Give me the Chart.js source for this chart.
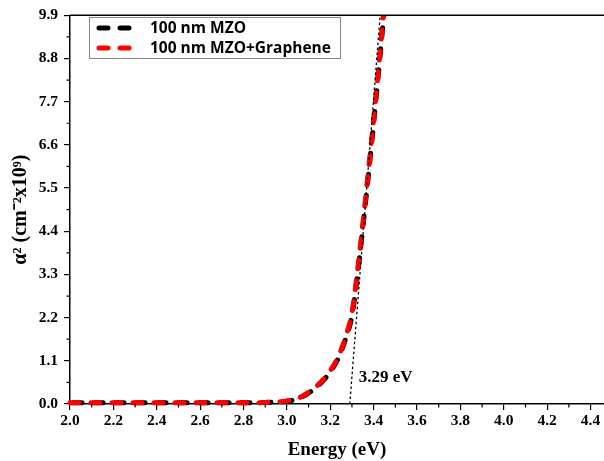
<!DOCTYPE html>
<html>
<head>
<meta charset="utf-8">
<script src="https://cdn.jsdelivr.net/npm/chart.js@4.4.1/dist/chart.umd.min.js"></script>
<style>
  html, body { margin: 0; padding: 0; background: #fff; }
  #wrap { width: 604px; height: 461px; }
</style>
</head>
<body>
<div id="wrap"><canvas id="chart" width="604" height="461"></canvas></div>
<script>
// data
const energy = [2.0, 2.1, 2.2, 2.3, 2.4, 2.5, 2.6, 2.7, 2.8, 2.9, 3.0, 3.05, 3.1, 3.15, 3.2, 3.24, 3.27, 3.3, 3.33, 3.36, 3.39, 3.42, 3.45, 3.47];
const mzo      = [0.03, 0.03, 0.03, 0.03, 0.03, 0.03, 0.03, 0.03, 0.03, 0.04, 0.07, 0.13, 0.28, 0.5, 0.82, 1.2, 1.65, 2.25, 3.5, 5.0, 6.6, 8.3, 10.1, 11.3];
const graphene = [0.03, 0.03, 0.03, 0.03, 0.03, 0.03, 0.03, 0.03, 0.03, 0.04, 0.08, 0.14, 0.3, 0.52, 0.85, 1.24, 1.7, 2.33, 3.6, 5.1, 6.7, 8.4, 10.2, 11.4];
const tangentE = [3.29, 3.43];
const tangentV = [0, 9.9];
const gapLabel = '3.29 eV';
const seriesNames = ['100 nm MZO', '100 nm MZO+Graphene'];
const xTicks = [2.0, 2.2, 2.4, 2.6, 2.8, 3.0, 3.2, 3.4, 3.6, 3.8, 4.0, 4.2, 4.4];
const yTicks = [0, 1.1, 2.2, 3.3, 4.4, 5.5, 6.6, 7.7, 8.8, 9.9];

const pts = (xs, ys) => xs.map((x, i) => ({ x: x, y: ys[i] }));
const serif = '"Liberation Serif", "Times New Roman", serif';

// minor ticks, top frame line, legend box and the band-gap label
const extras = {
  id: 'extras',
  afterDraw(chart) {
    const ctx = chart.ctx;
    const area = chart.chartArea;
    const xs = chart.scales.x, ys = chart.scales.y;
    ctx.save();
    ctx.strokeStyle = '#000';
    ctx.lineWidth = 1.5;
    ctx.beginPath();
    ctx.moveTo(area.left, area.top);
    ctx.lineTo(area.right, area.top);
    ctx.stroke();

    ctx.lineWidth = 1.2;
    ctx.beginPath();
    for (let i = 0; i < xTicks.length; i++) {
      const v = xTicks[i] + 0.1;
      if (v > xs.max) break;
      const px = xs.getPixelForValue(v);
      ctx.moveTo(px, area.bottom);
      ctx.lineTo(px, area.bottom + 3.5);
    }
    for (let i = 0; i < yTicks.length - 1; i++) {
      const py = ys.getPixelForValue((yTicks[i] + yTicks[i + 1]) / 2);
      ctx.moveTo(area.left, py);
      ctx.lineTo(area.left - 3.5, py);
    }
    ctx.stroke();

    // band-gap label
    ctx.fillStyle = '#000';
    ctx.font = 'bold 17px ' + serif;
    ctx.textBaseline = 'middle';
    ctx.textAlign = 'left';
    ctx.fillText(gapLabel, xs.getPixelForValue(tangentE[0]) + 9, area.bottom - 26);

    // legend
    const lx = 89, ly = 17, lw = 251, lh = 41;
    ctx.strokeStyle = '#888';
    ctx.lineWidth = 1;
    ctx.strokeRect(lx + 0.5, ly + 0.5, lw, lh);
    const colors = ['#000', '#ff0000'];
    ctx.font = 'bold 15.5px "Open Sans", sans-serif';
    seriesNames.forEach((name, i) => {
      const cy = ly + 11 + i * 20;
      ctx.strokeStyle = colors[i];
      ctx.lineWidth = 5;
      ctx.lineCap = 'round';
      ctx.beginPath();
      ctx.moveTo(99, cy); ctx.lineTo(108, cy);
      ctx.moveTo(120, cy); ctx.lineTo(129, cy);
      ctx.stroke();
      ctx.fillStyle = '#000';
      ctx.fillText(name, 150, cy + 1);
    });
    ctx.restore();
  }
};

const curveClip = { left: 6, right: 0, top: 0, bottom: 6 };

new Chart(document.getElementById('chart'), {
  type: 'scatter',
  data: {
    datasets: [
      {
        label: 'tangent',
        data: pts(tangentE, tangentV),
        showLine: true,
        borderColor: '#000',
        borderWidth: 1.3,
        borderDash: [2.5, 2.5],
        pointRadius: 0,
        order: -1
      },
      {
        label: seriesNames[1],
        data: pts(energy, graphene),
        showLine: true,
        borderColor: '#ff0000',
        borderWidth: 5,
        borderDash: [9, 12],
        borderCapStyle: 'round',
        cubicInterpolationMode: 'monotone',
        pointRadius: 0,
        clip: curveClip,
        order: 0
      },
      {
        label: seriesNames[0],
        data: pts(energy, mzo),
        showLine: true,
        borderColor: '#000',
        borderWidth: 5,
        borderDash: [9, 12],
        borderDashOffset: -3,
        borderCapStyle: 'round',
        cubicInterpolationMode: 'monotone',
        pointRadius: 0,
        clip: curveClip,
        order: 1
      }
    ]
  },
  options: {
    responsive: false,
    animation: false,
    layout: { padding: { top: 12, right: 0, left: 0, bottom: 0 } },
    plugins: { legend: { display: false }, tooltip: { enabled: false } },
    scales: {
      x: {
        type: 'linear',
        min: 2.0,
        max: 4.462,
        afterBuildTicks: s => { s.ticks = xTicks.map(v => ({ value: v })); },
        afterFit: s => { s.height = 57; },
        grid: { display: true, drawOnChartArea: false, drawTicks: true, tickLength: 6, color: '#000', lineWidth: 1.2 },
        border: { display: true, color: '#000', width: 1.5 },
        ticks: {
          color: '#000',
          font: { family: serif, size: 15.5, weight: 'bold' },
          padding: 2,
          maxRotation: 0,
          callback: v => v.toFixed(1)
        },
        title: {
          display: true,
          text: 'Energy (eV)',
          color: '#000',
          font: { family: serif, size: 19, weight: 'bold' },
          padding: { top: 0, bottom: 0 }
        }
      },
      y: {
        min: 0,
        max: 9.9,
        afterBuildTicks: s => { s.ticks = yTicks.map(v => ({ value: v })); },
        afterFit: s => { s.width = 70; },
        grid: { display: true, drawOnChartArea: false, drawTicks: true, tickLength: 6, color: '#000', lineWidth: 1.2 },
        border: { display: true, color: '#000', width: 1.5 },
        ticks: {
          color: '#000',
          font: { family: serif, size: 15.5, weight: 'bold' },
          padding: 6,
          callback: v => v.toFixed(1)
        },
        title: {
          display: true,
          text: 'α² (cm⁻²x10⁹)',
          color: '#000',
          font: { family: serif, size: 20, weight: 'bold' },
          padding: { top: 9, bottom: 0 }
        }
      }
    }
  },
  plugins: [extras]
});
</script>
</body>
</html>
